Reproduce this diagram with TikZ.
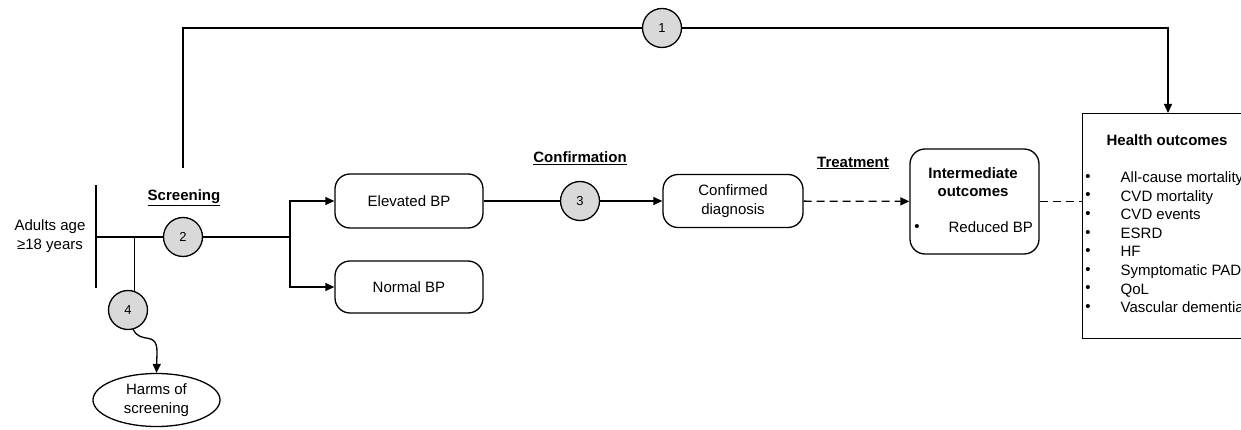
\documentclass[tikz,border=0pt]{standalone}
\usepackage{fontspec}
\setmainfont{Liberation Sans}
\usetikzlibrary{arrows.meta,shapes.geometric,calc}

\newcommand{\flowfont}{\fontsize{15}{18.5}\selectfont}

\tikzset{
	keyq/.style={circle, draw, fill=black!15, minimum size=39pt, inner sep=0pt, font=\fontsize{13}{14}\selectfont},
	roundbox/.style={draw, rounded corners=15pt, align=center, inner sep=0pt},
	steplabel/.style={font=\flowfont\bfseries},
	flow/.style={-{Triangle[length=9pt,width=8pt]}},
	dashflow/.style={dash pattern=on 8pt off 5pt},
}

\begin{document}
\begin{tikzpicture}[x=1pt, y=-1pt, line width=1.3pt, font=\flowfont]

	\useasboundingbox (0,0) rectangle (1241,430);
	\clip (0,0) rectangle (1241,430);

	% Draw population and screening line.
	\node[align=center] (adults) at (50,236) {Adults age\\≥18 years};
	\coordinate (bartop) at (96,185);
	\coordinate (barbot) at (96,288);
	\draw (bartop) -- (barbot);
	\coordinate (start) at (96,237);
	\coordinate (harmsfork) at (134,237);
	\coordinate (split) at (290,237);
	\coordinate (upstart) at (183,168);
	\coordinate (healthin) at (1168,113);
	\coordinate (harmsbend) at (157,352);

	% Draw key questions.
	\node[keyq] (k1) at (662,28) {1};
	\node[keyq] (k2) at (183,237) {2};
	\node[keyq] (k3) at (580,201) {3};
	\node[keyq] (k4) at (128,310) {4};

	% Draw boxes.
	\node[roundbox, minimum width=148pt, minimum height=54pt] (elev) at (409,201) {Elevated BP};
	\node[roundbox, minimum width=148pt, minimum height=52pt] (normal) at (409,287) {Normal BP};
	\node[roundbox, minimum width=140pt, minimum height=53pt] (conf) at (733,201) {Confirmed\\diagnosis};
	\node[roundbox, minimum width=129pt, minimum height=105pt] (inter) at (974.5,201.5) {};
	\node[draw, anchor=north west, minimum width=220pt, minimum height=225pt] (health) at (1082,113) {};
	\node[ellipse, draw, minimum width=127pt, minimum height=53pt, align=center, inner sep=0pt] (harms) at (156.5,400) {Harms of\\screening};

	% Draw box texts.
	\node[steplabel, align=center] (intertitle) at (973,182) {Intermediate\\outcomes};
	\node (interbul) at (917,228) {•};
	\node[anchor=base west, inner sep=0pt] (intertext) at (948,233) {Reduced BP};
	\node[steplabel, anchor=base west, inner sep=0pt] (healthtitle) at (1106,146) {Health outcomes};
	\foreach \outcome [count=\i from 0] in {All-cause mortality, CVD mortality, CVD events, ESRD, HF, Symptomatic PAD, QoL, Vascular dementia} {
		\node (hb\i) at (1088, 178+18.5*\i) {•};
		\node[anchor=base west, inner sep=0pt] (ho\i) at (1120, 183+18.5*\i) {\outcome};
	}

	% Draw step labels.
	\node[steplabel] (screening) at (184,198) {\underline{Screening}};
	\node[steplabel] (confirmation) at (580,158) {\underline{Confirmation}};
	\node[steplabel] (treatment) at (853,163) {\underline{Treatment}};

	% Draw connectors.
	\draw (start) -- (k2) -- (split);
	\draw[flow] (split) |- (elev.west);
	\draw[flow] (split) |- (normal.west);
	\draw (elev) -- (k3);
	\draw[flow] (k3) -- (conf);
	\draw[flow, dashflow] (conf) -- (inter);
	\draw[dashflow] (inter.east) -- (inter.east -| health.west);
	\draw (upstart) |- (k1);
	\draw[flow] (k1) -| (healthin);
	\draw (harmsfork) -- (k4.72 |- harmsfork) -- (k4.72);
	\draw[flow] (k4.-75) .. controls (141,345) and (157,330) .. (harmsbend) -- (harms.north);

\end{tikzpicture}
\end{document}
